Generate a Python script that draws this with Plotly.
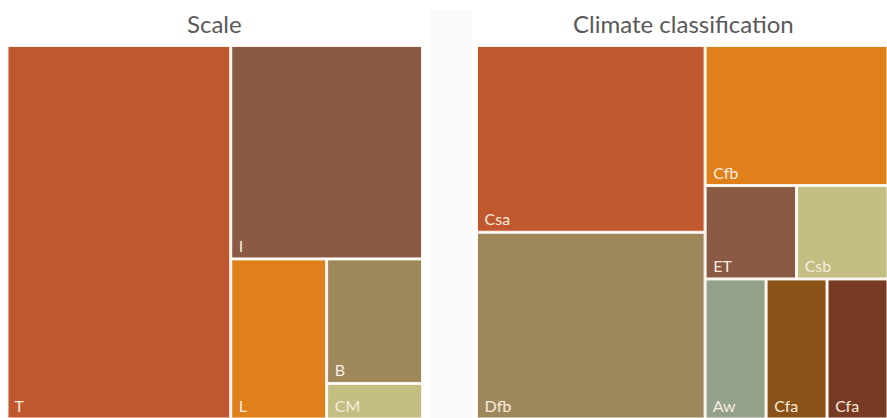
import plotly.graph_objects as go

# ---- data ----
scale_labels = ["T", "I", "L", "B", "CM"]
scale_values = [49, 24, 9, 7, 2]
scale_colors = ["#c0582f", "#8b5a45", "#e0801b", "#9e885b", "#c3be82"]

# climate classification (grouping nodes keep the original tile arrangement)
climate_ids = ["gA", "gB", "Csa", "Dfb", "Cfb", "gR1", "ET", "Csb", "gR2", "Aw", "Cfa1", "Cfa2"]
climate_labels = ["", "", "Csa", "Dfb", "Cfb", "", "ET", "Csb", "", "Aw", "Cfa", "Cfa"]
climate_parents = ["", "", "gA", "gA", "gB", "gB", "gR1", "gR1", "gB", "gR2", "gR2", "gR2"]
climate_values = [0, 0, 5, 5, 3, 0, 1, 1, 0, 1, 1, 1]
climate_colors = ["#ffffff", "#ffffff", "#c0582f", "#9e885b", "#e0801b", "#ffffff",
                  "#8b5a45", "#c3be82", "#ffffff", "#93a18a", "#8a5217", "#773a22"]

W, H = 887, 418
FONT = "Lato"
LABEL_COLOR = "#f7ecdf"
LINE_COLOR = "#fbf4ec"

fig = go.Figure()

fig.add_trace(go.Treemap(
    labels=scale_labels,
    parents=[""] * len(scale_labels),
    values=scale_values,
    marker=dict(colors=scale_colors, line=dict(color=LINE_COLOR, width=1),
                pad=dict(t=0, l=0, r=0, b=0), depthfade=False),
    tiling=dict(packing="squarify", squarifyratio=1, pad=2),
    textinfo="label",
    textposition="bottom left",
    texttemplate=" %{label}",
    textfont=dict(family=FONT, size=16, color=LABEL_COLOR),
    pathbar=dict(visible=False),
    domain=dict(x=[8 / W, 421.5 / W], y=[0, 1 - 46.5 / H]),
    hoverinfo="label+value",
))

fig.add_trace(go.Treemap(
    ids=climate_ids,
    labels=climate_labels,
    parents=climate_parents,
    values=climate_values,
    sort=False,
    marker=dict(colors=climate_colors, line=dict(color=LINE_COLOR, width=1),
                pad=dict(t=0, l=0, r=0, b=0), depthfade=False),
    tiling=dict(packing="slice-dice", pad=2),
    textinfo="label",
    textposition="bottom left",
    texttemplate=" %{label}",
    textfont=dict(family=FONT, size=16, color=LABEL_COLOR),
    pathbar=dict(visible=False),
    domain=dict(x=[477.5 / W, 1.0], y=[0, 1 - 46.5 / H]),
    hoverinfo="label+value",
))

fig.update_layout(
    width=W, height=H,
    margin=dict(l=0, r=0, t=0, b=0),
    paper_bgcolor="#ffffff",
    plot_bgcolor="#ffffff",
    font=dict(family=FONT),
    showlegend=False,
    shapes=[dict(type="rect", xref="paper", yref="paper",
                 x0=430 / W, x1=472 / W, y0=0, y1=1 - 10 / H,
                 fillcolor="#fafafb", line=dict(width=0), layer="below")],
    annotations=[
        dict(text="Scale", x=214.5 / W, y=1 - 23 / H, xref="paper", yref="paper",
             xanchor="center", yanchor="middle", showarrow=False,
             font=dict(family=FONT, size=24, color="#595959")),
        dict(text="Climate classification", x=683 / W, y=1 - 23 / H, xref="paper", yref="paper",
             xanchor="center", yanchor="middle", showarrow=False,
             font=dict(family=FONT, size=24, color="#595959")),
    ],
)

fig.write_html("out.html")
